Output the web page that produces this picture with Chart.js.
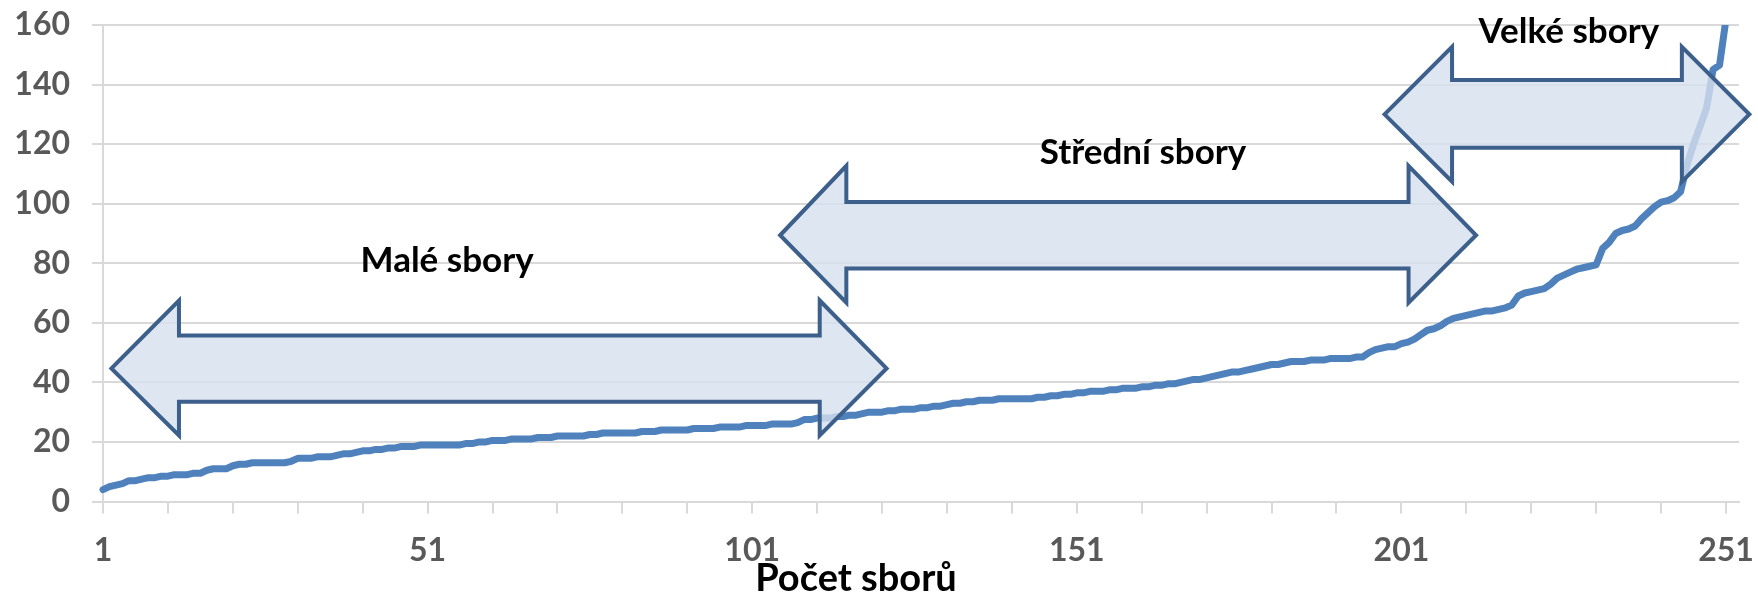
<!DOCTYPE html>
<html>
<head>
<meta charset="utf-8">
<script src="https://cdn.jsdelivr.net/npm/chart.js@4.4.1/dist/chart.umd.min.js"></script>
<style>
  html, body { margin: 0; padding: 0; background: #fff; }
</style>
</head>
<body>
<canvas id="chart" width="1758" height="600"></canvas>
<script>
// seřazené velikosti sborů (253 sborů)
const values = [
  4, 5, 5.5, 6, 7, 7, 7.5, 8, 8, 8.5,
  8.5, 9, 9, 9, 9.5, 9.5, 10.5, 11, 11, 11,
  12, 12.5, 12.5, 13, 13, 13, 13, 13, 13, 13.5,
  14.5, 14.5, 14.5, 15, 15, 15, 15.5, 16, 16, 16.5,
  17, 17, 17.5, 17.5, 18, 18, 18.5, 18.5, 18.5, 19,
  19, 19, 19, 19, 19, 19, 19.5, 19.5, 20, 20,
  20.5, 20.5, 20.5, 21, 21, 21, 21, 21.5, 21.5, 21.5,
  22, 22, 22, 22, 22, 22.5, 22.5, 23, 23, 23,
  23, 23, 23, 23.5, 23.5, 23.5, 24, 24, 24, 24,
  24, 24.5, 24.5, 24.5, 24.5, 25, 25, 25, 25, 25.5,
  25.5, 25.5, 25.5, 26, 26, 26, 26, 26.5, 27.5, 27.5,
  28, 28, 28, 28.5, 28.5, 29, 29, 29.5, 30, 30,
  30, 30.5, 30.5, 31, 31, 31, 31.5, 31.5, 32, 32,
  32.5, 33, 33, 33.5, 33.5, 34, 34, 34, 34.5, 34.5,
  34.5, 34.5, 34.5, 34.5, 35, 35, 35.5, 35.5, 36, 36,
  36.5, 36.5, 37, 37, 37, 37.5, 37.5, 38, 38, 38,
  38.5, 38.5, 39, 39, 39.5, 39.5, 40, 40.5, 41, 41,
  41.5, 42, 42.5, 43, 43.5, 43.5, 44, 44.5, 45, 45.5,
  46, 46, 46.5, 47, 47, 47, 47.5, 47.5, 47.5, 48,
  48, 48, 48, 48.5, 48.5, 50, 51, 51.5, 52, 52,
  53, 53.5, 54.5, 56, 57.5, 58, 59, 60.5, 61.5, 62,
  62.5, 63, 63.5, 64, 64, 64.5, 65, 66, 69, 70,
  70.5, 71, 71.5, 73, 75, 76, 77, 78, 78.5, 79,
  79.5, 85, 87, 90, 91, 91.5, 92.5, 95, 97, 99,
  100.5, 101, 102, 104, 113, 120, 126, 132, 145, 146.5,
  162, 230, 330
];
const categories = values.map((v, i) => String(i + 1));

// dvojité šipky (v jednotkách os: pořadí sboru / hodnota)
const arrowTipL = [2.3, 105.3, 198.4];
const arrowHeadL = [12.7, 115.5, 208.8];
const arrowHeadR = [111.4, 202.1, 244.2];
const arrowTipR = [121.7, 212.5, 254.6];
const arrowMid = [44.7, 89.4, 130];
const shaftTop = [55.7, 100.6, 141.5];
const shaftBottom = [33.5, 78.2, 118.8];
const headTop = [67.5, 112.7, 152.7];
const headBottom = [22.2, 66.8, 107.4];

const groupNames = ['Malé sbory', 'Střední sbory', 'Velké sbory'];
const groupNameAt = [54, 161.2, 226.8];
const groupNameBase = [77.1, 113.4, 154];

const xTitle = 'Počet sborů';

const FONT = 'Lato, "Open Sans", sans-serif';

const arrowsPlugin = {
  id: 'arrows',
  afterDatasetsDraw(chart) {
    const { ctx, scales: { x, y } } = chart;
    const px = c => x.getPixelForValue(c - 1);
    const py = v => y.getPixelForValue(v);
    ctx.save();
    for (let i = 0; i < arrowTipL.length; i++) {
      ctx.beginPath();
      ctx.moveTo(px(arrowTipL[i]), py(arrowMid[i]));
      ctx.lineTo(px(arrowHeadL[i]), py(headTop[i]));
      ctx.lineTo(px(arrowHeadL[i]), py(shaftTop[i]));
      ctx.lineTo(px(arrowHeadR[i]), py(shaftTop[i]));
      ctx.lineTo(px(arrowHeadR[i]), py(headTop[i]));
      ctx.lineTo(px(arrowTipR[i]), py(arrowMid[i]));
      ctx.lineTo(px(arrowHeadR[i]), py(headBottom[i]));
      ctx.lineTo(px(arrowHeadR[i]), py(shaftBottom[i]));
      ctx.lineTo(px(arrowHeadL[i]), py(shaftBottom[i]));
      ctx.lineTo(px(arrowHeadL[i]), py(headBottom[i]));
      ctx.closePath();
      ctx.fillStyle = 'rgba(214,224,238,0.8)';
      ctx.fill();
      ctx.lineWidth = 4;
      ctx.lineJoin = 'miter';
      ctx.strokeStyle = '#3C5F8B';
      ctx.stroke();
    }
    ctx.restore();
  },
  afterDraw(chart) {
    const { ctx, scales: { x, y } } = chart;
    ctx.save();
    ctx.fillStyle = '#000';
    ctx.textAlign = 'center';
    ctx.textBaseline = 'alphabetic';
    ctx.font = 'bold 35px ' + FONT;
    groupNames.forEach((t, i) => {
      ctx.fillText(t, x.getPixelForValue(groupNameAt[i] - 1), y.getPixelForValue(groupNameBase[i]));
    });
    ctx.font = 'bold 38px ' + FONT;
    ctx.fillText(xTitle, 856, 591);
    ctx.restore();
  }
};

new Chart(document.getElementById('chart'), {
  type: 'line',
  data: {
    labels: categories,
    datasets: [{
      data: values,
      borderColor: '#4F81BD',
      borderWidth: 7,
      pointRadius: 0,
      tension: 0,
      borderCapStyle: 'round',
      borderJoinStyle: 'round',
      clip: { left: 5, top: 0, right: 0, bottom: 5 }
    }]
  },
  options: {
    responsive: false,
    animation: false,
    devicePixelRatio: 1,
    layout: { padding: { top: 25, right: 19, left: 0, bottom: 0 } },
    plugins: { legend: { display: false }, tooltip: { enabled: false } },
    scales: {
      x: {
        type: 'category',
        offset: false,
        grid: { drawOnChartArea: false, color: '#D9D9D9', lineWidth: 2, tickLength: 12 },
        border: { color: '#D9D9D9', width: 2 },
        ticks: {
          autoSkip: false,
          maxRotation: 0,
          padding: 18,
          color: '#595959',
          font: { family: FONT, weight: 'bold', size: 32 },
          callback: (v, i) => i % 10 === 0 ? (i % 50 === 0 ? categories[i] : '') : null
        },
        afterFit: s => { s.height = 98.5; s.paddingLeft = 0; s.paddingRight = 0; }
      },
      y: {
        min: 0,
        max: 160,
        grid: { color: '#D9D9D9', lineWidth: 2, tickLength: 11 },
        border: { color: '#D9D9D9', width: 2 },
        ticks: {
          stepSize: 20,
          padding: 22,
          color: '#595959',
          font: { family: FONT, weight: 'bold', size: 32 }
        },
        afterFit: s => { s.width = 103; s.paddingTop = 0; s.paddingBottom = 0; }
      }
    }
  },
  plugins: [arrowsPlugin]
});
</script>
</body>
</html>
